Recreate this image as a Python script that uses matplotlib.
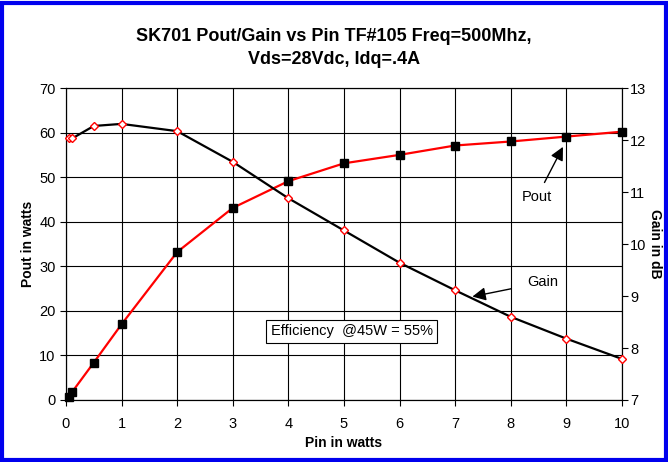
import matplotlib
matplotlib.use('Agg')
import matplotlib.pyplot as plt
from matplotlib.patches import Rectangle

plt.rcParams['font.family'] = ['Liberation Sans', 'DejaVu Sans']

# Data
pin = [0.05, 0.11, 0.5, 1, 2, 3, 4, 5, 6, 7, 8, 9, 10]
pout = [0.7, 1.8, 8.4, 17.0, 33.2, 43.1, 49.1, 53.1, 55.0, 57.1, 58.0, 59.1, 60.2]
gain = [12.03, 12.03, 12.27, 12.31, 12.17, 11.58, 10.88, 10.26, 9.64, 9.11, 8.60, 8.18, 7.79]

fig = plt.figure(figsize=(6.68, 4.62), dpi=100)
ax1 = fig.add_axes([0.0988, 0.1342, 0.8322, 0.6753])
ax2 = ax1.twinx()

ax1.plot(pin, pout, color='red', linewidth=1.6, marker='s', markersize=6,
         markerfacecolor='black', markeredgecolor='black', zorder=3, clip_on=False)
ax2.plot(pin, gain, color='black', linewidth=1.6, marker='D', markersize=4.5,
         markerfacecolor='white', markeredgecolor='red', markeredgewidth=1.0,
         zorder=3, clip_on=False)

ax1.set_xlim(0, 10)
ax1.set_ylim(0, 70)
ax2.set_ylim(7, 13)
ax1.set_xticks(range(0, 11))
ax1.set_yticks(range(0, 71, 10))
ax2.set_yticks(range(7, 14))
ax1.grid(True, color='black', linewidth=0.8)
ax1.set_axisbelow(True)

for ax in (ax1, ax2):
    ax.tick_params(direction='out', length=4, width=0.8, labelsize=10.5, color='black')
    for s in ax.spines.values():
        s.set_color('black')
        s.set_linewidth(0.8)
ax1.tick_params(axis='x', pad=8)
ax2.tick_params(axis='y', pad=2)

ax1.set_xlabel('Pin in watts', fontsize=10, fontweight='bold', labelpad=4)
ax1.set_ylabel('Pout in watts', fontsize=10, fontweight='bold', labelpad=3)
ax2.set_ylabel('Gain in dB', fontsize=10, fontweight='bold', rotation=270, labelpad=11)

fig.suptitle('SK701 Pout/Gain vs Pin TF#105 Freq=500Mhz,\nVds=28Vdc, Idq=.4A',
             fontsize=13, fontweight='bold', y=0.94, linespacing=1.5)

ax1.annotate('Pout', xy=(8.94, 56.8), xytext=(8.47, 45.5), fontsize=10.5,
             ha='center', va='center',
             arrowprops=dict(arrowstyle='-|>', color='black', lw=1.0, mutation_scale=20,
                             shrinkA=4, shrinkB=0))
ax1.annotate('Gain', xy=(7.31, 23.2), xytext=(8.58, 26.4), fontsize=10.5,
             ha='center', va='center',
             arrowprops=dict(arrowstyle='-|>', color='black', lw=1.0, mutation_scale=20,
                             shrinkA=10, shrinkB=0))
ax1.text(5.14, 15.4, 'Efficiency  @45W = 55%', fontsize=10.5, ha='center', va='center',
         bbox=dict(boxstyle='square,pad=0.3', facecolor='white', edgecolor='black', lw=0.8),
         zorder=5)

fig.patches.append(Rectangle((0.003, 0.004), 0.994, 0.99, transform=fig.transFigure,
                             fill=False, edgecolor='#0000ee', linewidth=3))

fig.savefig('out.png', dpi=100)
